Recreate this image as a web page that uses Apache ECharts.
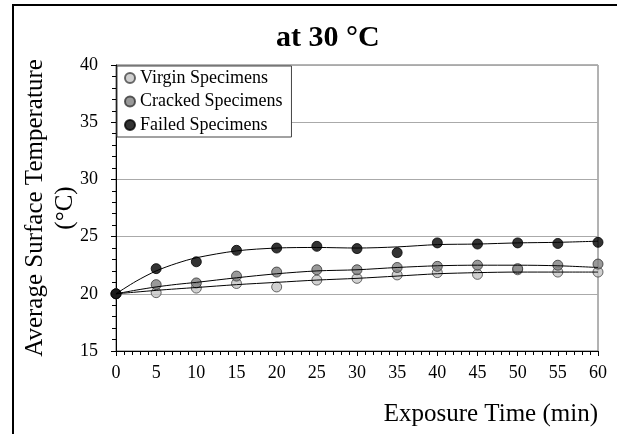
<!DOCTYPE html>
<html>
<head>
<meta charset="utf-8">
<script src="https://cdn.jsdelivr.net/npm/echarts@6/dist/echarts.min.js"></script>
<style>
  html, body { margin: 0; padding: 0; background: #fff; }
  #chart { width: 617px; height: 434px; }
</style>
</head>
<body>
<div id="chart"></div>
<script>
// exposure time (min)
const times = [0, 5, 10, 15, 20, 25, 30, 35, 40, 45, 50, 55, 60];

// measured points
const virgin  = [20.0, 20.1, 20.5, 20.9, 20.6, 21.2, 21.35, 21.65, 21.85, 21.7, 22.1, 21.9, 21.9];
const cracked = [20.0, 20.8, 20.95, 21.55, 21.9, 22.1, 22.1, 22.3, 22.4, 22.5, 22.2, 22.5, 22.6];
const failed  = [20.0, 22.2, 22.8, 23.8, 24.0, 24.15, 23.95, 23.6, 24.45, 24.35, 24.45, 24.4, 24.5];

// trend curves
const fitTimes   = [0, 2.5, 5, 7.5, 10, 15, 20, 25, 30, 35, 40, 45, 50, 55, 60];
const virginFit  = [20.0, 20.15, 20.3, 20.43, 20.55, 20.8, 21.0, 21.2, 21.35, 21.55, 21.75, 21.85, 21.9, 21.9, 21.9];
const crackedFit = [20.0, 20.32, 20.6, 20.82, 21.0, 21.4, 21.75, 22.0, 22.1, 22.3, 22.45, 22.5, 22.5, 22.45, 22.3];
const failedFit  = [20.0, 21.1, 22.0, 22.65, 23.15, 23.75, 24.0, 24.05, 24.0, 24.1, 24.3, 24.35, 24.45, 24.5, 24.6];

const names = ['Virgin Specimens', 'Cracked Specimens', 'Failed Specimens'];
const fills = ['#c4c4c4', '#7f7f7f', '#000000'];
const edges = ['#444', '#333', '#000'];

const pairs = (xs, ys) => xs.map((x, i) => [x, ys[i]]);
const serif = 'Liberation Serif';

const chart = echarts.init(document.getElementById('chart'));

const pointSeries = [virgin, cracked, failed].map((vals, i) => ({
    name: names[i],
    type: 'scatter',
    data: pairs(times, vals),
    symbol: 'circle',
    symbolSize: 10,
    itemStyle: { color: fills[i], borderColor: edges[i], borderWidth: 1 },
    z: 2
}));

const fitSeries = [virginFit, crackedFit, failedFit].map(vals => ({
    type: 'line',
    data: pairs(fitTimes, vals),
    showSymbol: false,
    symbol: 'none',
    smooth: 0.3,
    lineStyle: { color: '#000', width: 1 },
    silent: true,
    z: 3
}));

chart.setOption({
    animation: false,
    title: {
        text: 'at 30 °C',
        left: 276,
        top: 23,
        padding: 0,
        textStyle: { fontFamily: serif, fontSize: 30, fontWeight: 'bold', color: '#000' }
    },
    legend: {
        data: names,
        orient: 'vertical',
        left: 117,
        top: 66,
        padding: [3, 9, 3, 7],
        itemGap: 5.5,
        itemWidth: 10,
        itemHeight: 10,
        backgroundColor: '#fff',
        borderColor: '#444',
        borderWidth: 1,
        borderRadius: 0,
        textStyle: { fontFamily: serif, fontSize: 18, color: '#000', lineHeight: 18 }
    },
    grid: {
        left: 116,
        right: 19,
        top: 65,
        bottom: 83,
        outerBoundsMode: 'none',
        containLabel: false,
        show: true,
        borderColor: '#666',
        borderWidth: 1
    },
    xAxis: {
        type: 'value',
        min: 0,
        max: 60,
        interval: 5,
        name: 'Exposure Time (min)',
        nameLocation: 'end',
        nameGap: 0,
        nameMoveOverlap: false,
        nameTextStyle: {
            fontFamily: serif, fontSize: 25, color: '#000',
            align: 'right', verticalAlign: 'top', padding: [51, 0, 0, 0]
        },
        axisLine: { lineStyle: { color: '#000', width: 1 } },
        axisTick: { length: 5, lineStyle: { color: '#000' } },
        minorTick: { show: true, splitNumber: 5, length: 4, lineStyle: { color: '#000' } },
        splitLine: { show: false },
        axisLabel: { fontFamily: serif, fontSize: 18, color: '#000', margin: 13 }
    },
    yAxis: {
        type: 'value',
        min: 15,
        max: 40,
        interval: 5,
        name: 'Average Surface Temperature\n(°C)',
        nameLocation: 'middle',
        nameGap: 36,
        nameMoveOverlap: false,
        nameTextStyle: { fontFamily: serif, fontSize: 25, color: '#000', lineHeight: 30 },
        axisLine: { show: true, lineStyle: { color: '#000', width: 1 } },
        axisTick: { show: true, length: 5, lineStyle: { color: '#000' } },
        minorTick: { show: true, splitNumber: 5, length: 4, lineStyle: { color: '#000' } },
        splitLine: { show: true, lineStyle: { color: '#aaa', width: 1 } },
        axisLabel: { fontFamily: serif, fontSize: 18, color: '#000', margin: 18 }
    },
    graphic: [
        { type: 'line', shape: { x1: 12, y1: 5, x2: 617, y2: 5 }, style: { stroke: '#000', lineWidth: 2 } },
        { type: 'line', shape: { x1: 13, y1: 4, x2: 13, y2: 434 }, style: { stroke: '#000', lineWidth: 2 } }
    ],
    series: pointSeries.concat(fitSeries)
});
</script>
</body>
</html>
